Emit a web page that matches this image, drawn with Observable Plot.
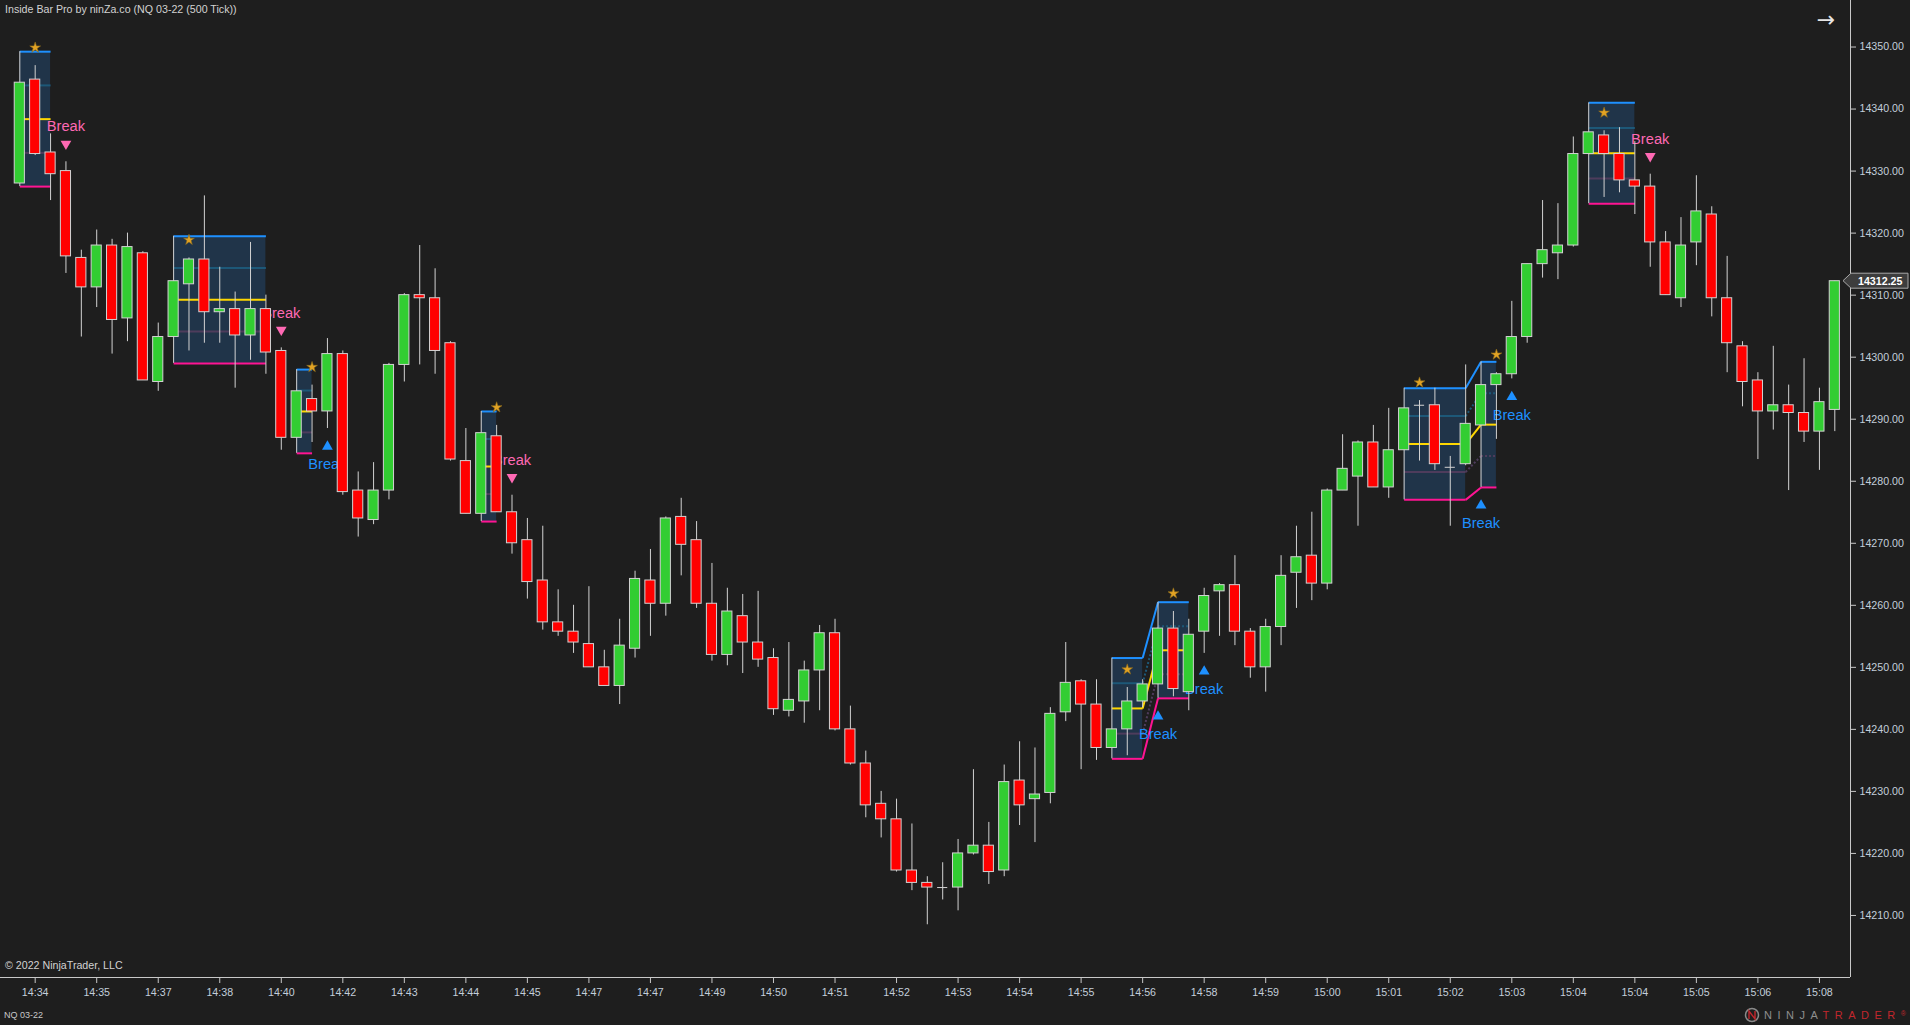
<!DOCTYPE html>
<html><head><meta charset="utf-8">
<script src="https://cdn.jsdelivr.net/npm/d3@7"></script>
<script src="https://cdn.jsdelivr.net/npm/@observablehq/plot@0.6"></script>
<style>
html,body{margin:0;padding:0;background:#1e1e1e;overflow:hidden;}
#chart{width:1910px;height:1025px;}
svg{display:block;}
</style></head><body><div id="chart"></div>
<script>
// ---- data (500-tick bars, NQ 03-22) ----
const opens = [14328,14344.75,14333,14330,14316,14311.25,14318,14306.25,14316.75,14296,
14303.25,14311.75,14315.75,14307.25,14307.75,14303.5,14307.75,14301,14287,14293.25,
14291.25,14300.5,14278.5,14273.75,14278.5,14298.75,14310,14309.5,14302.25,14283.25,
14274.75,14287.25,14275,14270.5,14264,14257.25,14255.75,14253.75,14250,14247,
14253,14264,14260.25,14274.25,14270.5,14260.25,14252,14258.25,14254,14251.5,
14243,14244.5,14249.5,14255.5,14240,14234.5,14228,14225.5,14217.25,14215.25,
14214.5,14214.5,14220,14221.25,14217.25,14231.75,14228.75,14229.75,14242.75,14247.75,
14244,14237,14240,14244.5,14247.25,14256.25,14246,14255.75,14262.25,14263.25,
14255.75,14250,14256.5,14265.25,14268,14263.5,14278.5,14280.75,14286.25,14279,
14285,14292.25,14292.25,14282.25,14282.75,14289,14295.5,14297.25,14303.25,14315,
14316.75,14318,14332.75,14335.75,14332.75,14328.5,14327.5,14318.5,14309.5,14318.5,
14323,14309.5,14301.75,14296.25,14291.25,14292.25,14291,14288,14291.5];
const highs = [14349.25,14347,14336,14331.5,14317.25,14320.5,14319,14320,14317,14305.5,
14319.5,14316,14326,14314.5,14310.5,14318.5,14310,14301.5,14298,14295.5,
14303,14301,14281.5,14283,14299,14310.25,14318,14314.25,14302.5,14288.5,
14291.25,14289,14277.75,14274,14272.75,14262.5,14260,14263,14252.75,14257.75,
14265.5,14269,14274.25,14277.25,14273.5,14266.75,14262.75,14261.75,14262.25,14253,
14254,14251,14256.75,14257.75,14243.75,14236.5,14230,14228.75,14224.75,14216.25,
14218.5,14222.25,14233.5,14225,14234.25,14238,14237,14243.5,14254,14248,
14248,14251.5,14246.75,14248,14260.5,14259,14257.75,14262.75,14263.5,14268,
14256.25,14257.75,14268,14272.75,14275,14278.75,14287.5,14286.5,14289,14291.75,
14295,14293,14295,14284,14298.75,14299.25,14297.5,14309,14315,14325.25,
14324.75,14335.5,14341,14336.5,14337,14334.75,14329.5,14320.25,14322.5,14329.25,
14324.25,14316.25,14302.5,14297.5,14301.75,14295.5,14299.75,14295,14312.25];
const lows = [14327.5,14332.5,14325.25,14313.5,14303.25,14308,14300.5,14302.5,14296.25,14294.5,
14299,14301,14302.25,14302.25,14295,14299.5,14297.25,14285,14284.5,14286.25,
14288.5,14277.75,14271,14273,14277,14296,14298.75,14297.25,14283.25,14274.75,
14273.5,14275,14268.25,14261,14256,14255,14252.25,14250,14247,14244,
14251.5,14255,14258.25,14264.75,14259.5,14251,14250.25,14249,14250,14242.25,
14242,14241,14243,14239.75,14234.25,14225.75,14222.5,14217,14214,14208.5,
14212.5,14210.75,14219.75,14215,14216.25,14224.5,14221.75,14228,14241.25,14233.5,
14235,14235.25,14235.75,14243.5,14245,14245.25,14243,14252.25,14255,14253.5,
14248.25,14246,14253.5,14259.5,14260.75,14262.5,14278.5,14272.75,14279,14277.25,
14277,14283.25,14281.75,14272.75,14282.5,14279,14286.75,14296.5,14302.25,14312.75,
14312.5,14317.75,14324.75,14325.75,14326.5,14323,14314.5,14310,14308,14314.75,
14306.5,14297.5,14292,14283.5,14288.25,14278.5,14286.25,14281.75,14288];
const closes = [14344.25,14332.75,14329.5,14316.25,14311.25,14318,14306,14317.75,14296.25,14303.25,
14312.25,14315.75,14307.25,14307.75,14303.5,14307.75,14300.75,14287,14294.5,14291.25,
14300.5,14278.25,14274,14278.5,14298.75,14310,14309.5,14301,14283.5,14274.75,
14287.75,14275,14270,14263.75,14257.25,14255.75,14254,14250,14247,14253.5,
14264.25,14260.25,14274,14269.75,14260.25,14252,14259,14254,14251.25,14243.25,
14244.75,14249.5,14255.5,14240,14234.5,14227.75,14225.5,14217.25,14215.25,14214.5,
14214.5,14220,14221.25,14217,14231.5,14227.75,14229.5,14242.5,14247.5,14244,
14237,14240,14244.5,14247.25,14256.25,14246.5,14255.25,14261.5,14263.25,14255.75,
14250,14256.5,14264.75,14267.75,14263.5,14278.5,14282,14286.25,14279,14285,
14291.75,14292.25,14282.75,14282.25,14289.25,14295.5,14297.25,14303.25,14315,14317.25,
14318,14332.75,14336.25,14332.75,14328.5,14327.5,14318.5,14310,14318,14323.5,
14309.5,14302.25,14296,14291.25,14292.25,14291,14288,14292.75,14312.25];

const timeLabels = ["14:34","14:35","14:37","14:38","14:40","14:42","14:43","14:44","14:45","14:47",
"14:47","14:49","14:50","14:51","14:52","14:53","14:54","14:55","14:56","14:58",
"14:59","15:00","15:01","15:02","15:03","15:04","15:04","15:05","15:06","15:08"];
const labelBars = [1,5,9,13,17,21,25,29,33,37,41,45,49,53,57,61,65,69,73,77,81,85,89,93,97,101,105,109,113,117];
const priceTicks = [14210,14220,14230,14240,14250,14260,14270,14280,14290,14300,14310,14320,14330,14340,14350];

// inside-bar zones
const boxStart  = [0, 10, 18, 30, 71, 74, 90, 95, 102];
const boxEnd    = [2, 16, 19, 31, 73, 76, 94, 96, 105];
const boxHigh   = [14349.25, 14319.5, 14298, 14291.25, 14251.5, 14260.5, 14295, 14299.25, 14341];
const boxLow    = [14327.5, 14299, 14284.5, 14273.5, 14235.25, 14245, 14277, 14279, 14324.75];
const boxLinked = [false, false, false, false, false, true, false, true, false];
const starBars = [1, 11, 19, 31, 72, 75, 91, 96, 103];
const breakUpBars = [20, 74, 77, 95, 97];
const breakDownBars = [3, 17, 32, 106];

// ---- build ----
const bars = opens.map((o, i) => ({i, o, h: highs[i], l: lows[i], c: closes[i]}));
const boxes = boxStart.map((s, j) => ({s, e: boxEnd[j], hi: boxHigh[j], lo: boxLow[j], linked: boxLinked[j]}));
const levels = [
  {k: 0.25, color: "#1d5878", quarter: true},
  {k: 0.75, color: "#4e3c5c", quarter: true},
  {k: 0.5, color: "#ffd700", quarter: false},
  {k: 0, color: "#1e90ff", quarter: false},
  {k: 1, color: "#ff1493", quarter: false}
];
const lv = (b, k) => b.hi - k * (b.hi - b.lo);
const segs = [];
boxes.forEach((b, j) => {
  levels.forEach(L => {
    segs.push({x1: b.s, x2: b.e, y1: lv(b, L.k), y2: lv(b, L.k), color: L.color, dotted: L.quarter && b.linked});
    if (b.linked) {
      const a = boxes[j - 1];
      segs.push({x1: a.e, x2: b.s, y1: lv(a, L.k), y2: lv(b, L.k), color: L.color, dotted: L.quarter});
    }
  });
});

const triDown = {draw(ctx, size) { const s = Math.sqrt(4 * size / Math.sqrt(3)), h = Math.sqrt(3) / 2 * s;
  ctx.moveTo(-s / 2, -h / 3); ctx.lineTo(s / 2, -h / 3); ctx.lineTo(0, 2 * h / 3); ctx.closePath(); }};
const triUp = {draw(ctx, size) { const s = Math.sqrt(4 * size / Math.sqrt(3)), h = Math.sqrt(3) / 2 * s;
  ctx.moveTo(0, -2 * h / 3); ctx.lineTo(s / 2, h / 3); ctx.lineTo(-s / 2, h / 3); ctx.closePath(); }};

const downB = breakDownBars.map(i => ({i, y: highs[i]}));
const upB = breakUpBars.map(i => ({i, y: lows[i]}));
const stars = starBars.map(i => ({i, y: highs[i]}));

const xMin = -1.255, xMax = 119.02, yMin = 14200, yMax = 14357.5;
const HW = 0.33;
const font = "'Liberation Sans', Arial, sans-serif";
const axisText = "#c3cedb";
const lineCol = "#c8c8c8";
const candleLine = "#d2d2d2";

const chart = Plot.plot({
  width: 1910, height: 1025,
  marginLeft: 0, marginRight: 60, marginTop: 0, marginBottom: 48,
  x: {type: "linear", domain: [xMin, xMax]},
  y: {type: "linear", domain: [yMin, yMax]},
  color: {type: "identity"},
  style: {background: "#1e1e1e", fontFamily: font, color: axisText},
  marks: [
    // zones
    Plot.rect(boxes, {x1: "s", x2: "e", y1: "lo", y2: "hi", fill: "#203449"}),
    Plot.link(segs.filter(d => !d.dotted), {x1: "x1", x2: "x2", y1: "y1", y2: "y2", stroke: "color", strokeWidth: 2}),
    Plot.link(segs.filter(d => d.dotted), {x1: "x1", x2: "x2", y1: "y1", y2: "y2", stroke: "color", strokeWidth: 2, strokeDasharray: "2,2"}),
    // break signals
    Plot.dot(downB, {x: "i", y: "y", symbol: triDown, r: 4, fill: "#ff69b4", dy: -18}),
    Plot.text(downB, {x: "i", y: "y", text: () => "Break", dy: -35, fill: "#ff69b4", fontSize: 14.67}),
    Plot.dot(upB, {x: "i", y: "y", symbol: triUp, r: 4, fill: "#1e90ff", dy: 18}),
    Plot.text(upB, {x: "i", y: "y", text: () => "Break", dy: 36, fill: "#1e90ff", fontSize: 14.67}),
    // candles
    Plot.ruleX(bars, {x: "i", y1: "l", y2: "h", stroke: candleLine, strokeWidth: 1}),
    Plot.rect(bars.filter(d => d.o !== d.c), {
      x1: d => d.i - HW, x2: d => d.i + HW,
      y1: d => Math.min(d.o, d.c), y2: d => Math.max(d.o, d.c),
      fill: d => d.c > d.o ? "#32cd32" : "#ff0000", stroke: candleLine, strokeWidth: 1
    }),
    Plot.ruleY(bars.filter(d => d.o === d.c), {x1: d => d.i - HW, x2: d => d.i + HW, y: "o", stroke: candleLine, strokeWidth: 1}),
    // stars on inside bars
    Plot.dot(stars, {x: "i", y: "y", symbol: "star", r: 3.4, fill: "#e2a324", stroke: "#8a6a1c", strokeWidth: 0.6, dy: -18}),
    // axes
    Plot.ruleY([yMin], {stroke: lineCol, strokeWidth: 1}),
    Plot.ruleX([xMax], {stroke: lineCol, strokeWidth: 1}),
    Plot.axisY(priceTicks, {anchor: "right", tickFormat: d => d.toFixed(2), tickSize: 5, tickPadding: 4, fontSize: 10.67, stroke: lineCol, fill: axisText, label: null}),
    Plot.axisX(labelBars, {anchor: "bottom", tickFormat: d => timeLabels[labelBars.indexOf(d)], tickSize: 6, tickPadding: 5, fontSize: 10.67, stroke: lineCol, fill: axisText, label: null})
  ]
});
document.getElementById("chart").appendChild(chart);

// ---- decorations ----
const svg = d3.select(chart);
const addText = (x, y, size, fill, txt, anchor = "start") =>
  svg.append("text").attr("x", x).attr("y", y).attr("font-size", size).attr("font-family", font)
    .attr("text-anchor", anchor).attr("fill", fill).text(txt);
addText(5, 13, 10.67, "#d2d2d2", "Inside Bar Pro by ninZa.co (NQ 03-22 (500 Tick))");
addText(5, 969, 10.67, "#d2d2d2", "© 2022 NinjaTrader, LLC");
addText(4, 1018, 9, "#c8c8c8", "NQ 03-22");
svg.append("text").attr("x", 1826).attr("y", 27).attr("font-size", 22).attr("font-family", "'DejaVu Sans', sans-serif")
  .attr("text-anchor", "middle").attr("fill", "#e6e6e6").text("→");

// last price marker
const yS = chart.scale("y");
const last = closes[closes.length - 1];
const yp = yS.apply(last);
svg.append("path")
  .attr("d", `M1843,${yp} L1851,${yp - 7.5} L1908,${yp - 7.5} L1908,${yp + 7.5} L1851,${yp + 7.5} Z`)
  .attr("fill", "#3d3d3d").attr("stroke", "#a8a8a8").attr("stroke-width", 1);
svg.append("text").attr("x", 1858).attr("y", yp + 4).attr("font-size", 10.67).attr("font-weight", "bold")
  .attr("text-anchor", "start").attr("font-family", font).attr("fill", "#ffffff").text(last.toFixed(2));

// logo
const lg = svg.append("g");
lg.append("circle").attr("cx", 1752).attr("cy", 1015).attr("r", 6.5).attr("fill", "none").attr("stroke", "#8a8a8a").attr("stroke-width", 1.5);
lg.append("path").attr("d", "M1749,1019 L1749,1011 L1755,1019 L1755,1011").attr("fill", "none").attr("stroke", "#c1272d").attr("stroke-width", 1.4);
const lt = lg.append("text").attr("x", 1764).attr("y", 1019).attr("font-size", 11).attr("letter-spacing", "5.5px")
  .attr("text-anchor", "start").attr("font-family", font);
lt.append("tspan").attr("fill", "#8e8e8e").text("NINJA");
lt.append("tspan").attr("fill", "#c1272d").text("TRADER");
lt.append("tspan").attr("fill", "#c1272d").attr("font-size", 7).attr("dy", -3).attr("letter-spacing", "0px").text("®");
</script>
</body></html>
